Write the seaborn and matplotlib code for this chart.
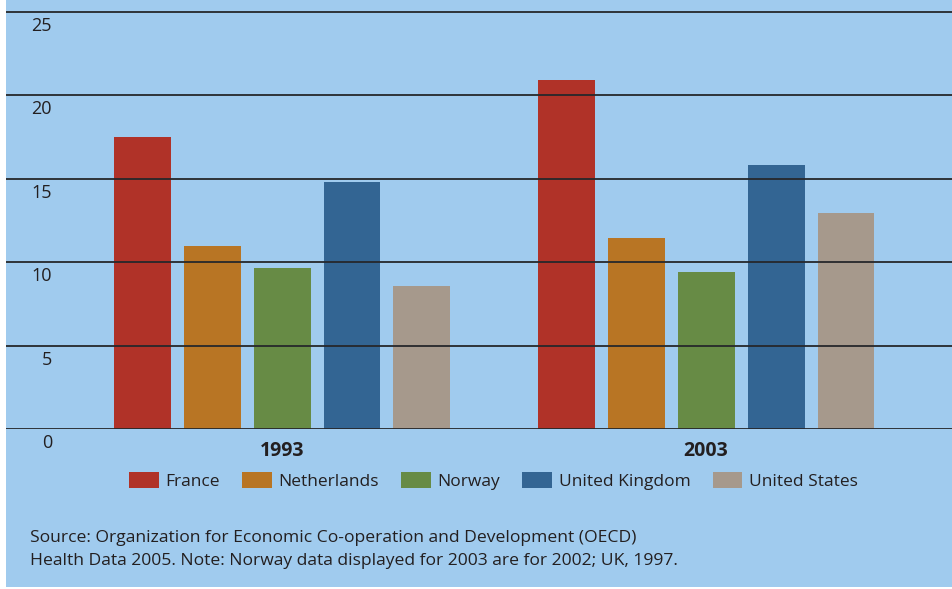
import matplotlib
matplotlib.use("Agg")
import matplotlib.pyplot as plt
import matplotlib.transforms as mtransforms
from matplotlib.patches import Rectangle
import seaborn as sns
import pandas as pd

years = ["1993", "2003"]
countries = ["France", "Netherlands", "Norway", "United Kingdom", "United States"]
values_1993 = [17.5, 11.0, 9.65, 14.8, 8.6]
values_2003 = [20.9, 11.45, 9.4, 15.8, 12.95]
y_ticks = [0, 5, 10, 15, 20, 25]
colors = ["#b03228", "#b87524", "#678b45", "#336593", "#a6998c"]
source_lines = [
    "Source: Organization for Economic Co-operation and Development (OECD)",
    "Health Data 2005. Note: Norway data displayed for 2003 are for 2002; UK, 1997.",
]

BG = "#a0cbee"
TXT = "#231f20"

df = pd.DataFrame({
    "year": [y for y in years for _ in countries],
    "country": countries * len(years),
    "value": values_1993 + values_2003,
})

sns.set_theme(style="white")
plt.rcParams["font.family"] = ["Open Sans", "DejaVu Sans"]

W, H = 952, 589
fig = plt.figure(figsize=(W / 100, H / 100), dpi=100, facecolor="white")
fig.patches.append(Rectangle((6 / W, 2 / H), 1 - 6 / W, 1 - 2 / H,
                             transform=fig.transFigure, facecolor=BG,
                             edgecolor="none", zorder=-10))

ax = fig.add_axes([6 / W, (H - 429) / H, 1 - 6 / W, 429 / H])
ax.set_facecolor(BG)
ax.patch.set_alpha(0)

sns.barplot(data=df, x="year", y="value", hue="country", order=years,
            hue_order=countries, palette=colors, width=0.825, gap=0.186,
            saturation=1, errorbar=None, ax=ax, legend=True, zorder=1,
            linewidth=0, edgecolor="none")

ax.set_ylim(0, 429 / 16.68)
ax.set_xlim(-0.651, 1.580)
for s in ax.spines.values():
    s.set_visible(False)
ax.set_yticks(y_ticks)
ax.set_yticklabels([])
ax.tick_params(axis="y", length=0)
ytrans = (mtransforms.blended_transform_factory(ax.transAxes, ax.transData)
          + mtransforms.ScaledTranslation(0, -14 / 100, fig.dpi_scale_trans))
for t in y_ticks:
    ax.axhline(t, color="#26282b", lw=1.3, zorder=2)
    ax.text(46 / (W - 6), t, str(t), transform=ytrans,
            ha="right", va="center", fontsize=13, color=TXT)

ax.set_xlabel("")
ax.set_ylabel("")
ax.tick_params(axis="x", length=0, pad=9)
for lab in ax.get_xticklabels():
    lab.set_fontweight("bold")
    lab.set_fontsize(14)
    lab.set_color(TXT)

handles, labels = ax.get_legend_handles_labels()
ax.get_legend().remove()
for h in handles:
    h.set_edgecolor("none")
    h.set_linewidth(0)
leg = fig.legend(handles, labels, loc="center", ncol=5, mode="expand",
                 bbox_to_anchor=(129 / W, (H - 490) / H, (858 - 129) / W, 18 / H),
                 frameon=False, borderpad=0, borderaxespad=0,
                 handlelength=1.7, handleheight=1.05, handletextpad=0.4,
                 fontsize=12.5)
for t in leg.get_texts():
    t.set_color(TXT)

fig.text(30 / W, 1 - 538 / H, source_lines[0], ha="left", va="center",
         fontsize=12.6, color=TXT)
fig.text(30 / W, 1 - 561 / H, source_lines[1], ha="left", va="center",
         fontsize=12.6, color=TXT)

fig.savefig("out.png", dpi=100, facecolor="white")
